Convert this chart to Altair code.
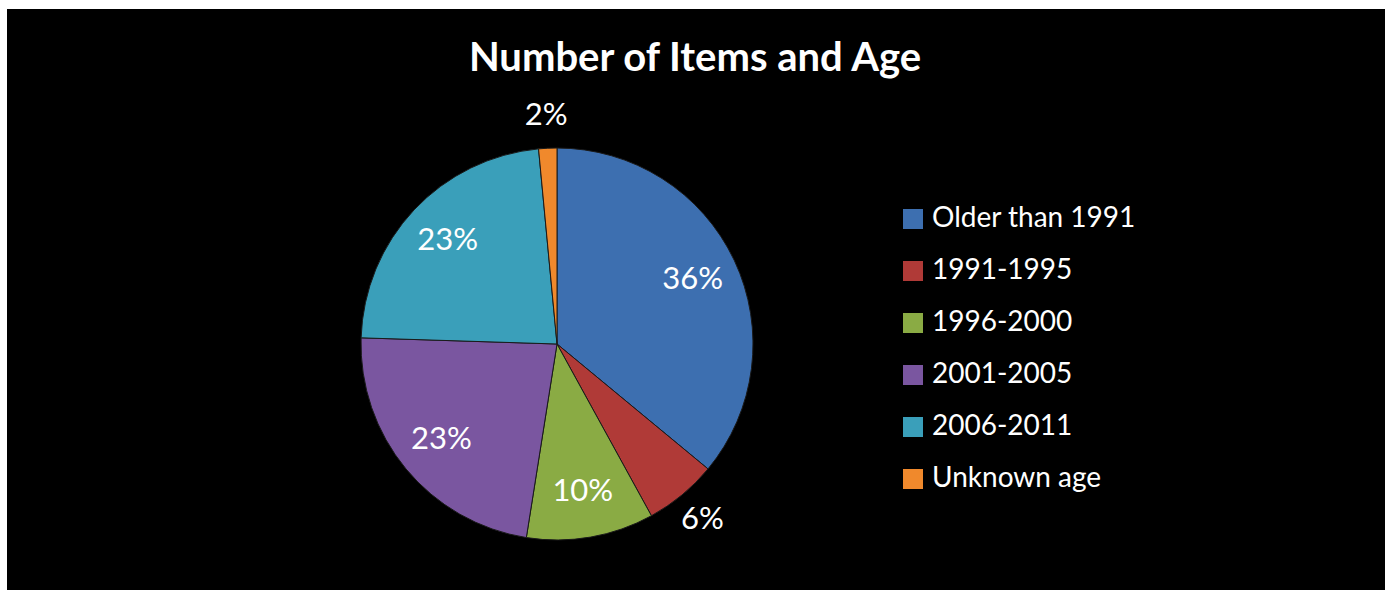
import altair as alt
import pandas as pd

categories = ["Older than 1991", "1991-1995", "1996-2000", "2001-2005", "2006-2011", "Unknown age"]
values = [36, 6, 10.5, 23, 23, 1.5]
labels = ["36%", "6%", "10%", "23%", "23%", "2%"]
colors = ["#3d6fb0", "#b03a37", "#8aab44", "#7a56a0", "#3a9fba", "#f0892c"]
title_text = "Number of Items and Age"

df = pd.DataFrame({
    "category": categories,
    "value": values,
    "label": labels,
    "idx": list(range(len(categories))),
})

CX, CY, R = 557, 344, 196
FONT = "Lato"

bg = alt.Chart(alt.Data(values=[{}])).mark_rect(color="black").encode(
    x=alt.value(7), x2=alt.value(1385), y=alt.value(9), y2=alt.value(590)
)

base = alt.Chart(df)

arcs = base.mark_arc(radius=R, x=CX, y=CY, stroke="#1a1a1a", strokeWidth=1).encode(
    theta=alt.Theta("value:Q", stack=True),
    order=alt.Order("idx:Q"),
    color=alt.Color(
        "category:N",
        scale=alt.Scale(domain=categories, range=colors),
        legend=alt.Legend(
            title=None, orient="none", legendX=899, legendY=205,
            symbolType="square", symbolSize=400, symbolStrokeWidth=0,
            labelFontSize=28, labelFont=FONT, labelColor="white",
            labelOffset=5, rowPadding=24, padding=0, labelLimit=400,
        ),
    ),
)

texts = base.transform_joinaggregate(
    total="sum(value)"
).transform_window(
    cum="sum(value)", sort=[alt.SortField("idx")], frame=[None, 0]
).transform_calculate(
    ang="2 * PI * (datum.cum - datum.value / 2) / datum.total",
    r="datum.value < 7 ? 228 : 150",
).mark_text(x=CX, y=CY, fontSize=31, font=FONT, color="white",
            align="center", baseline="middle").encode(
    theta=alt.Theta("ang:Q", scale=None),
    radius=alt.Radius("r:Q", scale=None),
    text="label:N",
)

title = alt.Chart(alt.Data(values=[{"t": title_text}])).mark_text(
    fontSize=40, font=FONT, fontWeight="bold", color="white",
    align="center", baseline="middle"
).encode(x=alt.value(695), y=alt.value(59), text="t:N")

chart = alt.layer(bg, arcs, texts, title).properties(
    width=1388, height=597, autosize="none", padding=0, background="white"
).configure_view(stroke=None)

chart.save("out.html", embed_options={"renderer": "svg", "actions": False})
